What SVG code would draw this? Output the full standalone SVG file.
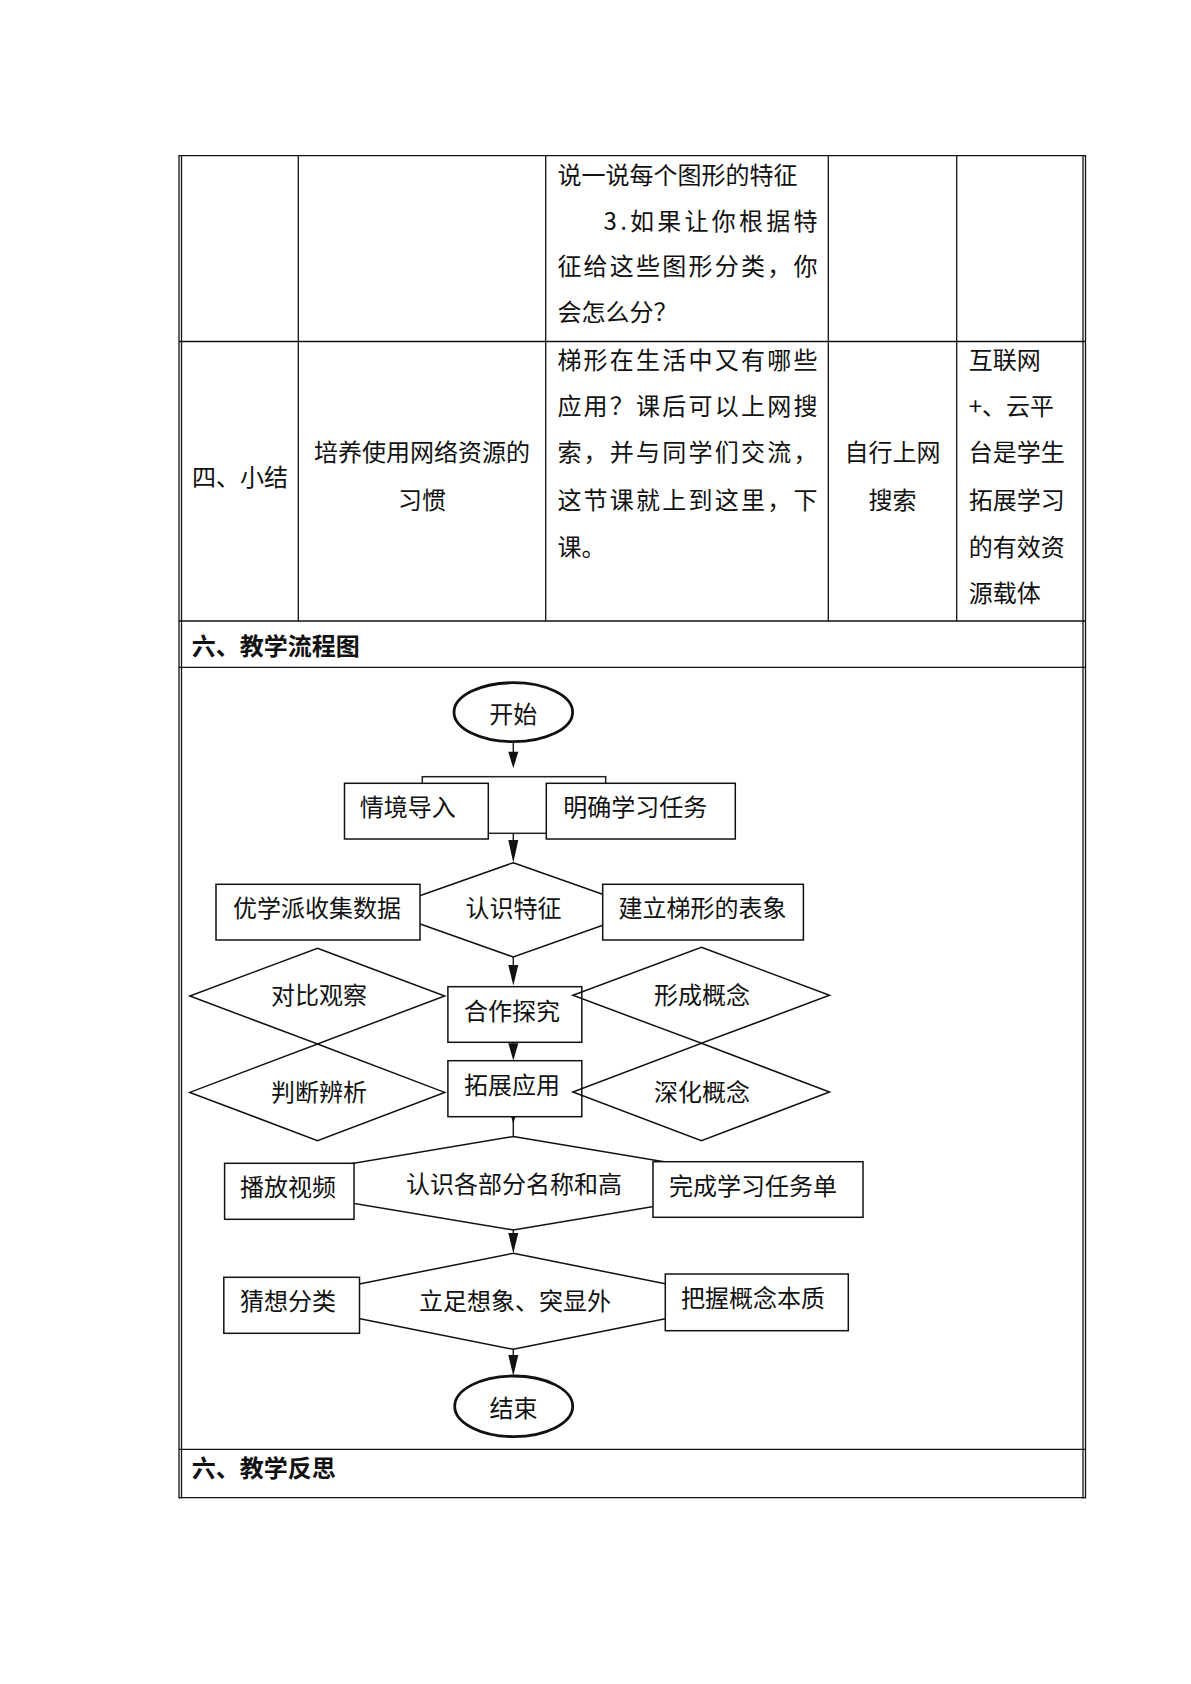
<svg xmlns="http://www.w3.org/2000/svg" width="1191" height="1684" viewBox="0 0 1191 1684">
<style>
.t{font-family:"Noto Sans CJK SC","Liberation Sans",sans-serif;font-size:24px;fill:#111}
.b{font-weight:bold}
.m{text-anchor:middle}
.ln{stroke:#222;stroke-width:1.5;fill:none}
.bd{stroke:#111;stroke-width:1.3;fill:none}
.box{stroke:#111;stroke-width:1.5;fill:#fff}
.dia{stroke:#111;stroke-width:1.5;fill:none}
.diaw{stroke:#111;stroke-width:1.5;fill:#fff}
.ell{stroke:#111;stroke-width:2.8;fill:#fff}
.arr{fill:#111;stroke:none}
</style>
<rect width="1191" height="1684" fill="#fff"/>
<g id="table">
  <line class="bd" x1="179" y1="155.7" x2="1085.3" y2="155.7" stroke-width="2"/>
  <line class="bd" x1="179" y1="1497.7" x2="1085.3" y2="1497.7" stroke-width="2"/>
  <line class="bd" x1="179" y1="155" x2="179" y2="1498.5"/>
  <line class="bd" x1="181.5" y1="155" x2="181.5" y2="1498.5"/>
  <line class="bd" x1="1083" y1="155" x2="1083" y2="1498.5"/>
  <line class="bd" x1="1085.5" y1="155" x2="1085.5" y2="1498.5"/>
  <line class="bd" x1="179" y1="341.5" x2="1085.3" y2="341.5"/>
  <line class="bd" x1="179" y1="621" x2="1085.3" y2="621"/>
  <line class="bd" x1="179" y1="667.3" x2="1085.3" y2="667.3"/>
  <line class="bd" x1="179" y1="1449.3" x2="1085.3" y2="1449.3"/>
  <line class="bd" x1="298.3" y1="155.7" x2="298.3" y2="621"/>
  <line class="bd" x1="545.7" y1="155.7" x2="545.7" y2="621"/>
  <line class="bd" x1="828.3" y1="155.7" x2="828.3" y2="621"/>
  <line class="bd" x1="956.7" y1="155.7" x2="956.7" y2="621"/>
</g>
<g id="table-text">
  <text class="t" x="557.4" y="184">说一说每个图形的特征</text>
  <text class="t" x="603.6" y="229.5" textLength="214" lengthAdjust="spacing">3.如果让你根据特</text>
  <text class="t" x="557.4" y="275" textLength="260" lengthAdjust="spacing">征给这些图形分类，你</text>
  <text class="t" x="557.4" y="320.5">会怎么分？</text>
  <text class="t" x="192" y="486">四、小结</text>
  <text class="t m" x="422" y="461">培养使用网络资源的</text>
  <text class="t m" x="422" y="508.5">习惯</text>
  <text class="t" x="557.4" y="368.8" textLength="260" lengthAdjust="spacing">梯形在生活中又有哪些</text>
  <text class="t" x="557.4" y="415" textLength="260" lengthAdjust="spacing">应用？课后可以上网搜</text>
  <text class="t" x="557.4" y="461" textLength="260" lengthAdjust="spacing">索，并与同学们交流，</text>
  <text class="t" x="557.4" y="508.5" textLength="260" lengthAdjust="spacing">这节课就上到这里，下</text>
  <text class="t" x="557.4" y="555.7">课。</text>
  <text class="t m" x="892.4" y="461">自行上网</text>
  <text class="t m" x="892.4" y="508.5">搜索</text>
  <text class="t" x="968.7" y="368.8">互联网</text>
  <text class="t" x="968.7" y="415">+、云平</text>
  <text class="t" x="968.7" y="461">台是学生</text>
  <text class="t" x="968.7" y="508.5">拓展学习</text>
  <text class="t" x="968.7" y="555.7">的有效资</text>
  <text class="t" x="968.7" y="601.8">源载体</text>
  <text class="t b" x="191.7" y="655">六、教学流程图</text>
  <text class="t b" x="191.7" y="1477">六、教学反思</text>
</g>
<g id="connectors">
  <line class="ln" x1="513.3" y1="741.7" x2="513.3" y2="760"/>
  <polygon class="arr" points="508.3,751.7 518.3,751.7 513.3,768.3"/>
  <rect class="ln" x="422.3" y="776.7" width="183.4" height="56.6"/>
  <line class="ln" x1="513.3" y1="833.3" x2="513.3" y2="850"/>
  <polygon class="arr" points="508.3,840 518.3,840 513.3,862.7"/>
  <line class="ln" x1="513.3" y1="957" x2="513.3" y2="975"/>
  <polygon class="arr" points="508.3,965 518.3,965 513.3,985.5"/>
  <line class="ln" x1="513.3" y1="1042.3" x2="513.3" y2="1050"/>
  <polygon class="arr" points="508.3,1043.3 518.3,1043.3 513.3,1060.5"/>
  <line class="ln" x1="513.3" y1="1116.7" x2="513.3" y2="1136.5"/>
  <polygon class="arr" points="508.3,1106.7 518.3,1106.7 513.3,1124"/>
  <line class="ln" x1="513.3" y1="1230" x2="513.3" y2="1240"/>
  <polygon class="arr" points="508.3,1233 518.3,1233 513.3,1253.3"/>
  <line class="ln" x1="513.3" y1="1349.3" x2="513.3" y2="1360"/>
  <polygon class="arr" points="508.3,1355 518.3,1355 513.3,1376"/>
</g>
<g id="start">
  <ellipse class="ell" cx="513.3" cy="712.2" rx="59.3" ry="29.5"/>
  <text class="t m" x="513.3" y="723">开始</text>
</g>
<g id="n-qingjing">
  <rect class="box" x="344.5" y="783.3" width="143.8" height="55.7"/>
  <text class="t" x="359.8" y="816">情境导入</text>
</g>
<g id="n-mingque">
  <rect class="box" x="546.3" y="783.3" width="189" height="55.7"/>
  <text class="t" x="563.3" y="816">明确学习任务</text>
</g>
<g id="d-renshi">
  <polygon class="diaw" points="513.3,862.7 646.6,909.8 513.3,957 380,909.8"/>
  <text class="t m" x="513.5" y="917">认识特征</text>
</g>
<g id="n-youxue">
  <rect class="box" x="216" y="884.3" width="204" height="55.7"/>
  <text class="t" x="233" y="916.5">优学派收集数据</text>
</g>
<g id="n-jianli">
  <rect class="box" x="602.7" y="884.3" width="200.7" height="55.7"/>
  <text class="t" x="618.5" y="917">建立梯形的表象</text>
</g>
<g id="n-hezuo">
  <rect class="box" x="447.9" y="986.7" width="133.9" height="55.6"/>
  <text class="t" x="464" y="1019.5">合作探究</text>
</g>
<g id="n-tuozhan">
  <rect class="box" x="447.9" y="1060.7" width="133.9" height="56"/>
  <text class="t" x="464" y="1093.5">拓展应用</text>
</g>
<g id="d-duibi">
  <polygon class="dia" points="317.5,948.3 444.7,996 317.5,1044 189.8,996"/>
  <text class="t m" x="319" y="1004">对比观察</text>
</g>
<g id="d-panduan">
  <polygon class="dia" points="317.5,1044 444.7,1092.4 317.5,1140.6 189.8,1092.4"/>
  <text class="t m" x="319" y="1100.5">判断辨析</text>
</g>
<g id="d-xingcheng">
  <polygon class="dia" points="701.4,947.3 829.5,995.3 701.4,1043.3 572.9,995.3"/>
  <text class="t m" x="702" y="1003.5">形成概念</text>
</g>
<g id="d-shenhua">
  <polygon class="dia" points="701.4,1043.3 829.5,1092 701.4,1140.6 572.9,1092"/>
  <text class="t m" x="702" y="1100.5">深化概念</text>
</g>
<g id="d-mingcheng">
  <polygon class="diaw" points="513.3,1136.5 792,1183.3 513.3,1230 234,1183.3"/>
  <text class="t m" x="514" y="1193">认识各部分名称和高</text>
</g>
<g id="n-bofang">
  <rect class="box" x="224.6" y="1163.3" width="129.4" height="56"/>
  <text class="t" x="240" y="1195.5">播放视频</text>
</g>
<g id="n-wancheng">
  <rect class="box" x="653" y="1161.7" width="210" height="55.6"/>
  <text class="t" x="669" y="1194.5">完成学习任务单</text>
</g>
<g id="d-lizu">
  <polygon class="diaw" points="513.3,1253.3 752.6,1301.3 513.3,1349.3 272.6,1301.3"/>
  <text class="t" x="419" y="1310">立足想象、突显外</text>
</g>
<g id="n-caixiang">
  <rect class="box" x="223.8" y="1277.3" width="135.7" height="56"/>
  <text class="t" x="240" y="1309.5">猜想分类</text>
</g>
<g id="n-bawo">
  <rect class="box" x="665.3" y="1274" width="183" height="56.7"/>
  <text class="t" x="681" y="1306.5">把握概念本质</text>
</g>
<g id="end">
  <ellipse class="ell" cx="513.7" cy="1406.3" rx="59" ry="30.3"/>
  <text class="t m" x="513.6" y="1417">结束</text>
</g>
</svg>
